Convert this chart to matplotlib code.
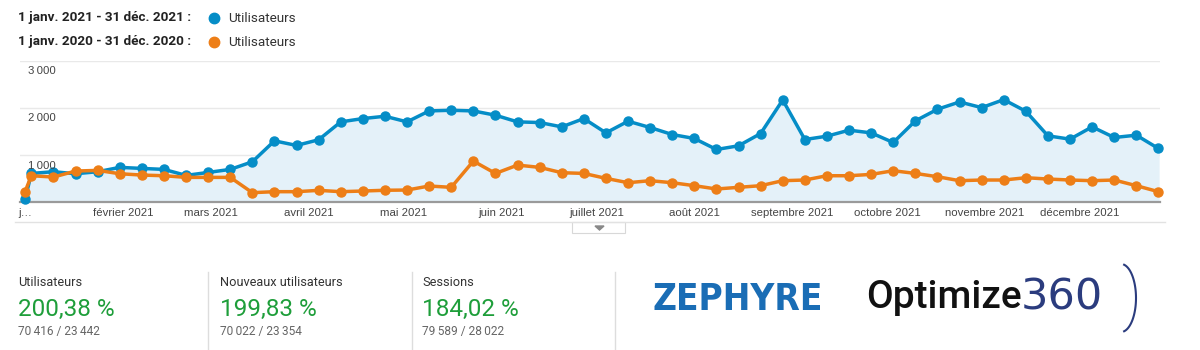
import matplotlib
matplotlib.use('Agg')
import matplotlib.pyplot as plt
from matplotlib.patches import Rectangle, Polygon
import numpy as np
import pandas as pd

# Données hebdomadaires (utilisateurs), 2021 vs 2020
dates = [pd.Timestamp('2021-01-01')] + list(pd.date_range('2021-01-03', '2021-12-26', freq='W-SUN'))
users_2021 = [60, 612, 648, 605, 648, 740, 718, 697, 570, 633,
              697, 859, 1302, 1205, 1325, 1704, 1774, 1823, 1704, 1936,
              1950, 1936, 1845, 1704, 1690, 1598, 1774, 1471, 1718, 1584,
              1436, 1352, 1119, 1197, 1457, 2168, 1330, 1401, 1528, 1471,
              1267, 1725, 1971, 2126, 2006, 2175, 1929, 1408, 1338, 1598,
              1373, 1422, 1140]
users_2020 = [225, 563, 535, 662, 676, 605, 577, 563, 528, 528,
              528, 204, 225, 225, 253, 225, 239, 255, 260, 345,
              317, 873, 612, 788, 740, 627, 612, 507, 415, 458,
              415, 352, 282, 317, 352, 458, 472, 563, 563, 591,
              669, 612, 542, 458, 472, 472, 521, 493, 472, 458,
              472, 352, 225]

month_ticks = pd.date_range('2021-02-01', '2021-12-01', freq='MS')
month_labels = ['février 2021', 'mars 2021', 'avril 2021', 'mai 2021', 'juin 2021',
                'juillet 2021', 'août 2021', 'septembre 2021', 'octobre 2021',
                'novembre 2021', 'décembre 2021']
y_ticks = [1000, 2000, 3000]

legend_periods = ['1 janv. 2021 - 31 déc. 2021 :', '1 janv. 2020 - 31 déc. 2020 :']
metric_names = ['Utilisateurs', 'Nouveaux utilisateurs', 'Sessions']
metric_pct = ['200,38 %', '199,83 %', '184,02 %']
metric_vals = ['70\u2009416 / 23\u2009442', '70\u2009022 / 23\u2009354', '79\u2009589 / 28\u2009022']

BLUE = '#058dc7'
ORANGE = '#ed7e17'
GREEN = '#1e9e3a'
NAVY = '#2b3c7e'

W, H = 1200, 350
fig = plt.figure(figsize=(W / 100, H / 100), dpi=100)
fig.patch.set_facecolor('white')


def fx(x):
    return x / W


def fy(y):
    return 1 - y / H


# Zone du graphique
ax = fig.add_axes([fx(20), fy(202.3), fx(1140), (202.3 - 60.7) / H])
ax.fill_between(dates, users_2021, 0, color='#e4f1f9', zorder=1)
ax.plot(dates, users_2021, color=BLUE, lw=2.5, marker='o', ms=6.5, zorder=3, clip_on=False)
ax.plot(dates, users_2020, color=ORANGE, lw=2.5, marker='o', ms=6.5, zorder=4, clip_on=False)

ax.set_xlim(pd.Timestamp('2021-01-01') - pd.Timedelta(days=1.6), pd.Timestamp('2021-12-26') + pd.Timedelta(hours=12))
ax.set_ylim(0, 3000)
ax.set_yticks(y_ticks)
ax.yaxis.grid(True, color='#e9e9e9', lw=1)
ax.set_axisbelow(True)
ax.tick_params(axis='y', length=0, labelleft=False)

ax.set_xticks([dates[0]] + list(month_ticks))
ax.set_xticklabels(['j…'] + month_labels, fontsize=8.2, color='#444444', family='Liberation Sans')
ax.tick_params(axis='x', length=0, pad=4)

for s in ['top', 'right', 'left']:
    ax.spines[s].set_visible(False)
ax.spines['bottom'].set_color('#9a9a9a')
ax.spines['bottom'].set_linewidth(1.6)

for v in y_ticks:
    ax.annotate(f'{v // 1000}\u2009000', xy=(0.007, v), xycoords=('axes fraction', 'data'),
                xytext=(0, -7.5), textcoords='offset points', ha='left', va='center',
                fontsize=8.2, color='#444444', family=['Liberation Sans', 'DejaVu Sans'])

# Légende en haut
for i, (period, col) in enumerate(zip(legend_periods, [BLUE, ORANGE])):
    y = 18 + 24 * i
    fig.text(fx(18), fy(y), period, ha='left', va='center', fontsize=9.7,
             fontweight='bold', color='#222222', family='Roboto')
    fig.add_artist(plt.Line2D([fx(214)], [fy(y)], marker='o', ms=7.5, color=col,
                              transform=fig.transFigure))
    fig.text(fx(228), fy(y), 'Utilisateurs', ha='left', va='center', fontsize=9.7,
             color='#333333', family='Roboto')

# Ligne et onglet sous le graphique
fig.add_artist(plt.Line2D([fx(15), fx(1165)], [fy(222), fy(222)], color='#e2e2e2', lw=1,
                          transform=fig.transFigure))
fig.add_artist(Rectangle((fx(572), fy(233)), fx(53), 11 / H, facecolor='white',
                         edgecolor='#d8d8d8', lw=0.8, transform=fig.transFigure))
fig.add_artist(Polygon([[fx(595), fy(226)], [fx(604), fy(226)], [fx(599.5), fy(230)]],
                       closed=True, color='#888888', transform=fig.transFigure))

# Indicateurs en bas
for i, (name, pct, val) in enumerate(zip(metric_names, metric_pct, metric_vals)):
    x0 = 18 + 202 * i
    fig.text(fx(x0), fy(283), name, ha='left', va='center', fontsize=9.2,
             color='#333333', family='Roboto')
    fig.text(fx(x0), fy(309), pct, ha='left', va='center', fontsize=17.5,
             color=GREEN, family='Roboto')
    fig.text(fx(x0), fy(332), val, ha='left', va='center', fontsize=8.6,
             color='#666666', family=['Roboto', 'DejaVu Sans'])
for xs in [208, 412, 615]:
    fig.add_artist(plt.Line2D([fx(xs), fx(xs)], [fy(272), fy(350)], color='#dddddd', lw=1,
                              transform=fig.transFigure))

# Logos (texte)
fig.text(fx(652), fy(300), 'ZEPHYRE', ha='left', va='center', fontsize=26.5,
         fontweight='heavy', fontstretch='condensed', color='#1a6db5', family='DejaVu Sans')
fig.text(fx(866), fy(298), 'Optimize', ha='left', va='center', fontsize=28,
         fontweight='medium', color='#111111', family='Roboto')
fig.text(fx(1021), fy(298), '360', ha='left', va='center', fontsize=31,
         color=NAVY, family='DejaVu Sans')
t = np.radians(np.linspace(-78, 78, 60))
fig.add_artist(plt.Line2D(fx(1121 + 15 * np.cos(t)), fy(298 - 34 * np.sin(t)),
                          color=NAVY, lw=1.5, transform=fig.transFigure))

fig.savefig('out.png', dpi=100, facecolor='white')
